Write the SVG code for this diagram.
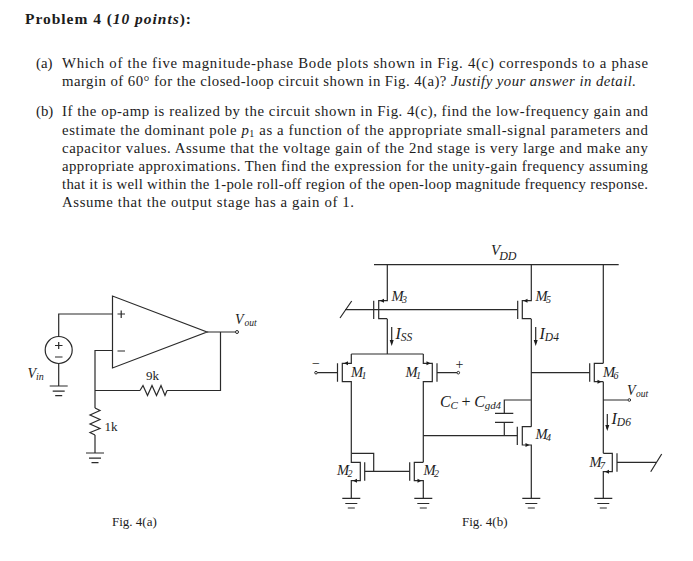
<svg xmlns="http://www.w3.org/2000/svg" width="693" height="561" viewBox="0 0 693 561">
<style>
.t{font-family:"Liberation Serif","Times New Roman",serif;font-size:14.8px;fill:#1c1c1c}
.i{font-style:italic}
.b{font-weight:bold}
.l{font-family:"Liberation Serif","Times New Roman",serif;fill:#1c1c1c}
.w{fill:none;stroke:#2a2a2a;stroke-width:1.2}
.a{fill:#1c1c1c;stroke:none}
.d{fill:#fff;stroke:#2a2a2a;stroke-width:1}
</style>
<defs>
<g id="gnd"><path class="w" d="M-9 0H9M-6 5.200H6M-3.500 9.700H3.500"/></g>
</defs>
<rect width="693" height="561" fill="#fff"/>
<g id="text">
<text class="t b" x="25" y="24" textLength="166" style="font-size:15.500px">Problem 4 (<tspan class="i">10 points</tspan>):</text>
<text class="t" x="36" y="68">(a)</text>
<text class="t" x="62" y="68" textLength="586">Which of the five magnitude-phase Bode plots shown in Fig. 4(c) corresponds to a phase</text>
<text class="t" x="62" y="86" textLength="574">margin of 60° for the closed-loop circuit shown in Fig. 4(a)? <tspan class="i">Justify your answer in detail.</tspan></text>
<text class="t" x="36" y="116">(b)</text>
<text class="t" x="62" y="116" textLength="586">If the op-amp is realized by the circuit shown in Fig. 4(c), find the low-frequency gain and</text>
<text class="t" x="62" y="134.500" textLength="586">estimate the dominant pole <tspan class="i">p</tspan><tspan font-size="10" dy="2">1</tspan><tspan dy="-2"> as a function of the appropriate small-signal parameters and</tspan></text>
<text class="t" x="62" y="152.500" textLength="586">capacitor values. Assume that the voltage gain of the 2nd stage is very large and make any</text>
<text class="t" x="62" y="170.500" textLength="586">appropriate approximations. Then find the expression for the unity-gain frequency assuming</text>
<text class="t" x="62" y="188.500" textLength="586">that it is well within the 1-pole roll-off region of the open-loop magnitude frequency response.</text>
<text class="t" x="62" y="206.500" textLength="292">Assume that the output stage has a gain of 1.</text>
</g>
<g id="connectors">
<path class="w" d="M58.700 336.500V314H112.500M58.700 363.500V386M207 332H235.500M220.500 332V390.500H167M140 390.500H95V350.500H112.500M95 390.500V408M95 435V453"/>
<path class="w" d="M374 264.700H618.700M345 309.700H517.700M351.300 354H423.300M387.300 319V354M316 372.700H337.500M437 372.700H458.300M364.700 471.300H409.700M351.300 453.300H373.700V471.300M423.300 435.700H517.300M531.300 319V426.700M531.300 372.700H589.700M531.300 400H504.300V413.300M504.300 422.300V435.700M603.300 264.700V363.300M603.300 381.700V453.300M603.300 400H627.800M617 462.300H656.700M340 318L351.700 301M650.700 471.700L661.700 454"/>
</g>
<g id="opamp"><path class="w" d="M112.500 296V368L207 332Z"/>
<path class="w" d="M117.500 314H125M121.200 310.500V318M117.500 351H125"/></g>
<g id="source"><circle class="w" cx="58.700" cy="350" r="13.500"/><path class="w" d="M55 345.500H62.500M58.700 342V349M55 357H62.500"/>
<use href="#gnd" x="58.700" y="386"/></g>
<g id="r1k"><path class="w" d="M95 408L100 410.500L90 415L100 419.500L90 424L100 428.500L90 432.500L95 435"/><use href="#gnd" x="95" y="453"/></g>
<g id="r9k"><path class="w" d="M140 390.500L143 385.500L147.500 395.500L152 385.500L156.500 395.500L161 385.500L165 395.500L167 390.500"/></g>
<circle class="d" cx="237" cy="332" r="1.500"/>
<g id="M3"><path class="w" d="M387.300 264.700V300.700H378.700V318.700H387.300M373.700 300.700V319"/><path class="a" d="M380 300.700L384 298.700V302.700Z"/></g>
<g id="M5"><path class="w" d="M531.300 264.700V300.700H522.300V318.700H531.300M517.700 300.700V319"/><path class="a" d="M523.500 300.700L527.500 298.700V302.700Z"/></g>
<g id="M1L"><path class="w" d="M351.300 354V363.300H342.300V381.700H351.300V453.300M337.500 363.300V381.700"/><path class="a" d="M344 363.300L348 361.300V365.300Z"/></g>
<g id="M1R"><path class="w" d="M423.300 354V363.300H432.300V381.700H423.300V462.300M437 363.300V381.700"/><path class="a" d="M430.500 363.300L426.500 361.300V365.300Z"/></g>
<g id="M2L"><path class="w" d="M351.300 453.300V462.300H360.300V480.700H351.300V498.300M364.700 462.300V480.700"/><path class="a" d="M353 480.700L357 478.700V482.700Z"/><use href="#gnd" x="351.300" y="498.300"/></g>
<g id="M2R"><path class="w" d="M423.300 462.300H414.300V480.700H423.300V498.300M409.700 462.300V480.700"/><path class="a" d="M421.500 480.700L417.500 478.700V482.700Z"/><use href="#gnd" x="423.300" y="498.300"/></g>
<g id="M4"><path class="w" d="M531.300 426.700H522.300V445H531.300V498.300M517.300 426.700V445"/><path class="a" d="M529.500 445L525.500 443V447Z"/><use href="#gnd" x="531.300" y="498.300"/></g>
<g id="M6"><path class="w" d="M603.300 363.300H594.300V381.700H603.300M589.700 363.300V381.700"/><path class="a" d="M601.500 381.700L597.500 379.700V383.700Z"/></g>
<g id="M7"><path class="w" d="M603.300 453.300H612.300V471.700H603.300V498.300M617 453.300V471.700"/><path class="a" d="M605 471.700L609 469.700V473.700Z"/><use href="#gnd" x="603.300" y="498.300"/></g>
<g id="Cc"><path class="w" d="M495 413.300H513.300M495 422.300H513.300"/></g>
<g id="currents"><path class="w" d="M391.700 327V343M535.700 327V343M607.300 414V429"/><path class="a" d="M391.700 346L389.700 340H393.700ZM535.700 346L533.700 340H537.700ZM607.300 431L605.300 425H609.300Z"/></g>
<circle class="d" cx="316" cy="372.700" r="1.300"/><circle class="d" cx="458.300" cy="372.700" r="1.300"/><circle class="d" cx="629.300" cy="400" r="1.300"/>
<g id="labels">
<text class="l i" x="27.500" y="378" font-size="14">V<tspan font-size="10" dy="2">in</tspan></text>
<text class="l i" x="235" y="324" font-size="14">V<tspan font-size="9.500" dy="2" dx="1">out</tspan></text>
<text class="l" x="146" y="380" font-size="13">9k</text>
<text class="l" x="104.500" y="431" font-size="13">1k</text>
<text class="l" x="112" y="526" font-size="13">Fig. 4(a)</text>
<text class="l" x="462" y="526" font-size="13">Fig. 4(b)</text>
<text class="l i" x="491" y="255" font-size="15">V<tspan font-size="12" dy="5" dx="-1">DD</tspan></text>
<text class="l i" x="391.500" y="300.500" font-size="14.500">M<tspan font-size="10" dy="2" dx="-1.500">3</tspan></text>
<text class="l i" x="535.500" y="300.500" font-size="14.500">M<tspan font-size="10" dy="2" dx="-1.500">5</tspan></text>
<text class="l i" x="351" y="377" font-size="14.500">M<tspan font-size="10" dy="2" dx="-1.500">1</tspan></text>
<text class="l i" x="405.500" y="377" font-size="14.500">M<tspan font-size="10" dy="2" dx="-1.500">1</tspan></text>
<text class="l i" x="337" y="475" font-size="14.500">M<tspan font-size="10" dy="2" dx="-1.500">2</tspan></text>
<text class="l i" x="423.500" y="475" font-size="14.500">M<tspan font-size="10" dy="2" dx="-1.500">2</tspan></text>
<text class="l i" x="535.500" y="439" font-size="14.500">M<tspan font-size="10" dy="2" dx="-1.500">4</tspan></text>
<text class="l i" x="603" y="377" font-size="14.500">M<tspan font-size="10" dy="2" dx="-1.500">6</tspan></text>
<text class="l i" x="589.500" y="467" font-size="14.500">M<tspan font-size="10" dy="2" dx="-1.500">7</tspan></text>
<text class="l i" x="395.500" y="339" font-size="16">I<tspan font-size="11.500" dy="2">SS</tspan></text>
<text class="l i" x="539.500" y="339" font-size="16">I<tspan font-size="11.500" dy="2">D4</tspan></text>
<text class="l i" x="611.500" y="424" font-size="16">I<tspan font-size="11.500" dy="2">D6</tspan></text>
<text class="l i" x="627" y="395" font-size="14">V<tspan font-size="9.500" dy="2" dx="0.500">out</tspan></text>
<text class="l i" x="440" y="407" font-size="16" textLength="61">C<tspan font-size="11" dy="2">C</tspan><tspan dy="-2" font-style="normal"> + </tspan>C<tspan font-size="11" dy="2">gd4</tspan></text>
<text class="l" x="312" y="367.500" font-size="14">−</text>
<text class="l" x="455.500" y="369" font-size="14">+</text>
</g>
</svg>
